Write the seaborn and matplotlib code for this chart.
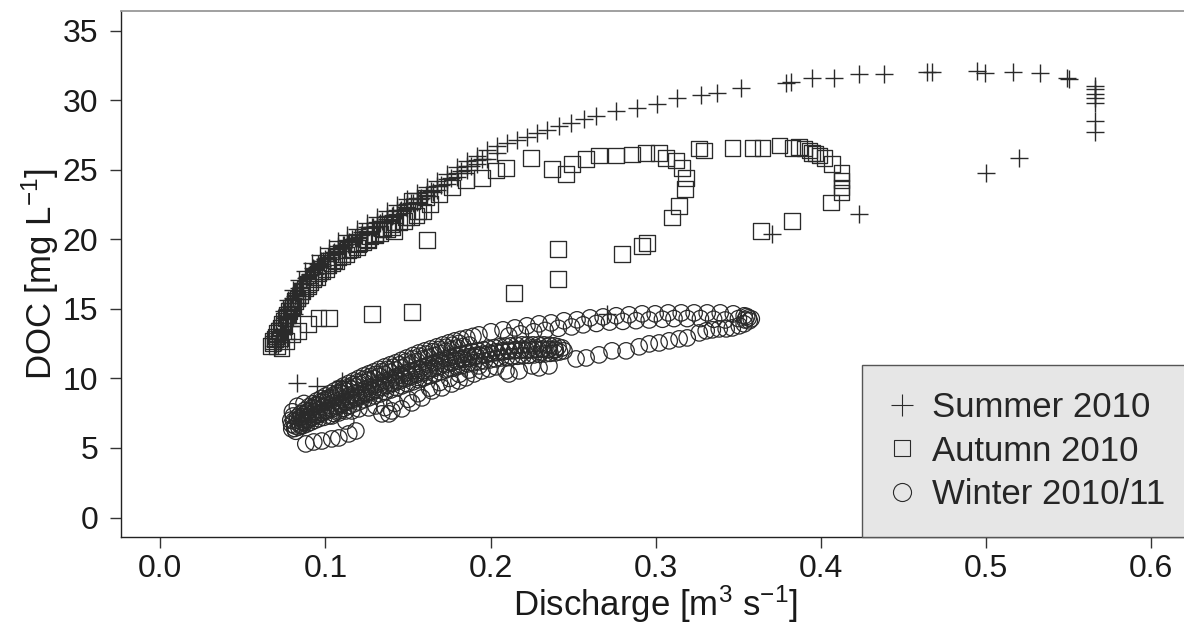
import matplotlib
matplotlib.use("Agg")
import matplotlib.pyplot as plt
from matplotlib.lines import Line2D
import pandas as pd
import seaborn as sns

# discharge (m3/s) and DOC (mg/L), one pair of lists per season
summer_q = [0.0693, 0.0705, 0.0723, 0.0747, 0.0771, 0.0801, 0.0838, 0.0875, 0.0917, 0.0965,
            0.1020, 0.1075, 0.1129, 0.1190, 0.1250, 0.1311, 0.1372, 0.1432, 0.1493, 0.1553,
            0.1614, 0.1675, 0.1735, 0.1796, 0.1856, 0.1917, 0.1978, 0.2038, 0.2099, 0.2160,
            0.2220, 0.2281, 0.2341, 0.2414, 0.2487, 0.2566, 0.2638, 0.2760, 0.2887, 0.3008,
            0.3129, 0.3275, 0.3372, 0.3517, 0.3790, 0.3820, 0.3947, 0.4080, 0.4232, 0.4384,
            0.4644, 0.4674, 0.4947, 0.4990, 0.5160, 0.5323, 0.5487, 0.5499, 0.5656, 0.5656,
            0.5656, 0.5656, 0.5656, 0.5656, 0.5656, 0.5196, 0.4996, 0.4232, 0.3705, 0.2705,
            0.1099, 0.0947, 0.0826,
            0.0715, 0.0735, 0.0760, 0.0790, 0.0825, 0.0865, 0.0905, 0.0950, 0.1000, 0.1050,
            0.1105, 0.1160, 0.1220, 0.1280, 0.1340, 0.1400, 0.1460, 0.1520, 0.1580, 0.1640,
            0.1700, 0.1760, 0.1820, 0.1880, 0.1950,
            0.0765, 0.0783, 0.0807, 0.0831, 0.0861, 0.0898, 0.0935, 0.0977, 0.1025, 0.1080,
            0.1135, 0.1189, 0.1250, 0.1310, 0.1371, 0.1432, 0.1492, 0.1553, 0.1613, 0.1674,
            0.1735, 0.1795, 0.1856, 0.1916, 0.1977, 0.2038,
            0.0729, 0.0744, 0.0765, 0.0789, 0.0816, 0.0850, 0.0887, 0.0926, 0.0971, 0.1023,
            0.1078, 0.1132, 0.1190, 0.1250, 0.1311, 0.1372, 0.1432, 0.1493, 0.1553, 0.1614,
            0.1675, 0.1735, 0.1796, 0.1856, 0.1917,
            0.0700, 0.0712, 0.0728, 0.0740, 0.0755, 0.0770, 0.0786, 0.0803, 0.0820, 0.0840,
            0.0860, 0.0882, 0.0905, 0.0930, 0.0957, 0.0985, 0.1015, 0.1045, 0.1078, 0.1110,
            0.1145, 0.1180, 0.1215, 0.1252, 0.1290, 0.1330, 0.1370, 0.1410, 0.1450, 0.1490,
            0.1530, 0.1570, 0.1610, 0.1650]
summer_doc = [12.34, 13.06, 14.00, 14.86, 15.65, 16.37, 17.09, 17.73, 18.31, 18.88,
              19.39, 19.89, 20.32, 20.76, 21.19, 21.62, 22.05, 22.48, 22.91, 23.35,
              23.78, 24.21, 24.71, 25.22, 25.65, 26.01, 26.44, 26.73, 26.94, 27.16,
              27.37, 27.66, 27.88, 28.17, 28.38, 28.67, 28.88, 29.24, 29.46, 29.75,
              30.18, 30.40, 30.54, 30.90, 31.26, 31.33, 31.62, 31.62, 31.91, 31.91,
              32.05, 32.05, 32.12, 31.98, 32.05, 31.98, 31.62, 31.55, 31.04, 30.83,
              30.47, 30.18, 29.82, 28.53, 27.73, 25.86, 24.78, 21.83, 20.40, 14.64,
              9.82, 9.46, 9.68,
              12.6, 13.5, 14.4, 15.2, 16.0, 16.8, 17.4, 18.0, 18.6, 19.1,
              19.6, 20.0, 20.5, 20.9, 21.3, 21.7, 22.1, 22.6, 23.0, 23.5,
              23.9, 24.4, 24.9, 25.3, 25.8,
              12.80, 13.75, 14.60, 15.40, 16.10, 16.85, 17.50, 18.05, 18.60, 19.15,
              19.65, 20.10, 20.50, 20.95, 21.35, 21.80, 22.25, 22.65, 23.10, 23.55,
              24.00, 24.45, 24.95, 25.40, 25.75, 26.20,
              12.60, 13.40, 14.30, 15.10, 15.90, 16.60, 17.30, 17.90, 18.45, 19.00,
              19.50, 19.95, 20.40, 20.85, 21.25, 21.70, 22.10, 22.55, 23.00, 23.40,
              23.85, 24.30, 24.80, 25.30, 25.70,
              12.50, 12.85, 13.58, 14.00, 14.52, 15.02, 15.40, 15.81, 16.14, 16.52,
              16.87, 17.23, 17.54, 17.86, 18.19, 18.47, 18.75, 19.01, 19.31, 19.57,
              19.84, 20.09, 20.34, 20.60, 20.87, 21.15, 21.44, 21.72, 22.01, 22.29,
              22.58, 22.86, 23.15, 23.43]

autumn_q = [0.0668, 0.0693, 0.0717, 0.0747, 0.0778, 0.0814, 0.0856, 0.0905, 0.0959, 0.1014,
            0.1075, 0.1135, 0.1202, 0.1269, 0.1341, 0.1414, 0.1487, 0.1560, 0.1632, 0.1525,
            0.1608, 0.1687, 0.1765, 0.1850, 0.1947, 0.2032, 0.2093, 0.2245, 0.2372, 0.2457,
            0.2493, 0.2578, 0.2656, 0.2759, 0.2856, 0.2941, 0.3020, 0.3063, 0.3123, 0.3160,
            0.3184, 0.3178, 0.3141, 0.3099, 0.2948, 0.2917, 0.2796, 0.2408, 0.2408, 0.2141,
            0.1614, 0.1414, 0.1523, 0.1281, 0.1020, 0.0959, 0.0893, 0.0838, 0.0796, 0.0760,
            0.0735,
            0.3263, 0.3293, 0.3463, 0.3584, 0.3645, 0.3748, 0.3827, 0.3868, 0.3899, 0.3929,
            0.3947, 0.3966, 0.3990, 0.4020, 0.4068, 0.4123, 0.4123, 0.4123, 0.4123, 0.4062,
            0.3826, 0.3638,
            0.0683, 0.0707, 0.0737, 0.0768, 0.0804, 0.0846, 0.0895, 0.0949, 0.1004, 0.1065,
            0.1125, 0.1192, 0.1259, 0.1331, 0.1404, 0.1477, 0.1550,
            0.0680, 0.0700, 0.0727, 0.0757, 0.0791, 0.0830, 0.0875, 0.0927, 0.0981, 0.1040,
            0.1100, 0.1163, 0.1230, 0.1300, 0.1372, 0.1445, 0.1518, 0.1590,
            0.0705, 0.0725, 0.0750, 0.0775, 0.0800, 0.0830, 0.0860, 0.0895, 0.0930, 0.0970,
            0.1010, 0.1055, 0.1100, 0.1150, 0.1200, 0.1250, 0.1300, 0.1350, 0.1400]
autumn_doc = [12.34, 12.84, 13.42, 14.14, 14.86, 15.58, 16.29, 16.94, 17.59, 18.17,
              18.74, 19.24, 19.75, 20.25, 20.76, 21.19, 21.62, 22.05, 22.55, 22.77,
              22.99, 23.27, 23.71, 24.21, 24.42, 24.93, 25.14, 25.86, 25.07, 24.71,
              25.43, 25.79, 26.01, 26.01, 26.08, 26.22, 26.22, 25.86, 25.65, 25.14,
              24.42, 23.63, 22.41, 21.55, 19.75, 19.53, 18.96, 19.32, 17.16, 16.15,
              19.96, 20.61, 14.78, 14.64, 14.35, 14.35, 13.92, 13.42, 13.20, 12.70,
              12.19,
              26.51, 26.37, 26.58, 26.58, 26.58, 26.73, 26.58, 26.65, 26.51, 26.37,
              26.22, 26.15, 26.01, 25.86, 25.43, 24.78, 24.21, 23.71, 23.35, 22.63,
              21.33, 20.61,
              12.70, 13.25, 13.90, 14.55, 15.25, 15.95, 16.60, 17.25, 17.85, 18.40,
              18.90, 19.40, 19.90, 20.40, 20.85, 21.30, 21.70,
              12.50, 13.00, 13.65, 14.35, 15.05, 15.75, 16.45, 17.10, 17.70, 18.30,
              18.80, 19.30, 19.80, 20.30, 20.75, 21.20, 21.60, 22.00,
              12.30, 12.88, 13.76, 14.57, 15.15, 15.74, 16.27, 16.80, 17.26, 17.73,
              18.10, 18.51, 18.89, 19.26, 19.63, 19.99, 20.34, 20.70, 21.05]

winter_q = [
    # outer rising limb
    0.0808, 0.0850, 0.0899, 0.0947, 0.1002, 0.1056, 0.1111, 0.1172, 0.1232, 0.1293,
    0.1359, 0.1426, 0.1493, 0.1566, 0.1638, 0.1711, 0.1784, 0.1856, 0.1929, 0.2002,
    0.2075, 0.2147, 0.2220, 0.2293, 0.2366, 0.2444, 0.2523, 0.2602, 0.2681, 0.2760,
    0.2838, 0.2917, 0.2996, 0.3075, 0.3154, 0.3232, 0.3311, 0.3390, 0.3469, 0.3535,
    0.3578,
    0.0829, 0.0875, 0.0923, 0.0975, 0.1029, 0.1084, 0.1142, 0.1202, 0.1263, 0.1326,
    0.1393, 0.1460, 0.1530, 0.1602, 0.1675, 0.1748, 0.1820, 0.1893,
    0.2110, 0.2180, 0.2260, 0.2330, 0.2410, 0.2490, 0.2560, 0.2640, 0.2720, 0.2800,
    0.2880, 0.2960, 0.3040, 0.3110, 0.3190, 0.3270, 0.3350, 0.3420, 0.3500, 0.3550,
    0.3560, 0.3540,
    0.0845, 0.0870, 0.0895, 0.0920, 0.0945, 0.0970, 0.0995, 0.1020, 0.1050, 0.1080,
    0.1110, 0.1140, 0.1170, 0.1200, 0.1235, 0.1270, 0.1305, 0.1340, 0.1375, 0.1410,
    0.1450, 0.1490, 0.1530, 0.1570, 0.1610, 0.1650, 0.1690, 0.1730, 0.1770, 0.1810,
    0.0830, 0.0880, 0.0930, 0.0985, 0.1040, 0.1095, 0.1150, 0.1205, 0.1265, 0.1325,
    0.1390, 0.1455, 0.1520, 0.1590, 0.1660, 0.1730, 0.1800, 0.1870,
    0.0855, 0.0905, 0.0958, 0.1013, 0.1068, 0.1123, 0.1178, 0.1235, 0.1295, 0.1358,
    0.1423, 0.1488, 0.1555, 0.1625, 0.1695, 0.1765, 0.1835,
    # inner loop
    0.0796, 0.0838, 0.0887, 0.0935, 0.0990, 0.1044, 0.1099, 0.1153, 0.1214, 0.1275,
    0.1335, 0.1396, 0.1456, 0.1523, 0.1590, 0.1656, 0.1723, 0.1790, 0.1856, 0.1923,
    0.1990, 0.2056, 0.2123, 0.2190, 0.2256, 0.2323, 0.2384, 0.2432,
    0.0817, 0.0863, 0.0911, 0.0963, 0.1017, 0.1071, 0.1126, 0.1184, 0.1245, 0.1305,
    0.1366, 0.1426, 0.1490, 0.1557, 0.1623, 0.1690, 0.1757, 0.1823, 0.1890, 0.1957,
    0.2023, 0.2090, 0.2157, 0.2223, 0.2290, 0.2354, 0.2408,
    0.0850, 0.0875, 0.0900, 0.0925, 0.0950, 0.0975, 0.1000, 0.1030, 0.1060, 0.1090,
    0.1120, 0.1150, 0.1185, 0.1220, 0.1255, 0.1290, 0.1325, 0.1360, 0.1395, 0.1430,
    0.1470, 0.1510, 0.1550, 0.1590, 0.1630, 0.1670, 0.1710, 0.1750, 0.1790, 0.1830,
    0.1870, 0.1910, 0.1950, 0.1990, 0.2030, 0.2070, 0.2110, 0.2150, 0.2190, 0.2230,
    0.2270, 0.2310, 0.2350, 0.2390,
    0.0860, 0.0920, 0.0980, 0.1040, 0.1100, 0.1160, 0.1220, 0.1285, 0.1350, 0.1415,
    0.1480, 0.1550, 0.1620, 0.1690, 0.1760, 0.1830, 0.1900, 0.1970, 0.2040, 0.2110,
    0.2180, 0.2250, 0.2320, 0.2390,
    0.0890, 0.0950, 0.1010, 0.1070, 0.1130, 0.1190, 0.1252, 0.1318, 0.1383, 0.1448,
    0.1515, 0.1585, 0.1655, 0.1725, 0.1795, 0.1865, 0.1935, 0.2005, 0.2075, 0.2145,
    0.2215, 0.2285, 0.2355,
    0.0814, 0.0862, 0.0911, 0.0959, 0.1020, 0.1081, 0.1141, 0.1202, 0.1262, 0.1329,
    0.1396, 0.1462, 0.1529, 0.1596, 0.1663, 0.1729, 0.1796, 0.1862, 0.1929, 0.1996,
    0.2062, 0.2129, 0.2196, 0.2262, 0.2329, 0.2390, 0.2444,
    0.0838, 0.0887, 0.0935, 0.0990, 0.1051, 0.1111, 0.1172, 0.1232, 0.1296, 0.1363,
    0.1429, 0.1496, 0.1563, 0.1630, 0.1696, 0.1763, 0.1829, 0.1896, 0.1963, 0.2029,
    0.2096, 0.2163, 0.2229, 0.2296, 0.2360, 0.2417,
    # falling limb
    0.3566, 0.3535, 0.3505, 0.3463, 0.3426, 0.3384, 0.3342, 0.3305, 0.3263, 0.3190,
    0.3141, 0.3081, 0.3020, 0.2960, 0.2899, 0.2820, 0.2735, 0.2656, 0.2578, 0.2517,
    0.2353, 0.2293, 0.2250, 0.2172, 0.2111, 0.2093, 0.2032, 0.1990, 0.1947, 0.1899,
    0.1850, 0.1808, 0.1765, 0.1705, 0.1644, 0.1584, 0.1523, 0.1462, 0.1402, 0.1384,
    0.1341, 0.1305, 0.1262, 0.1202, 0.1160, 0.1123, 0.1081, 0.1038, 0.1123, 0.1184,
    0.1141, 0.1081, 0.1038, 0.0978, 0.0929, 0.0881,
    0.1360, 0.1420, 0.1500, 0.1560, 0.1630, 0.1690, 0.1750, 0.1810, 0.1870, 0.1930,
    0.0790, 0.0800, 0.0830, 0.0870, 0.0795, 0.0805, 0.0820]
winter_doc = [
    6.94, 7.45, 7.95, 8.38, 8.74, 9.10, 9.46, 9.82, 10.18, 10.47,
    10.83, 11.12, 11.47, 11.83, 12.12, 12.41, 12.70, 12.91, 13.13, 13.35,
    13.49, 13.63, 13.78, 13.92, 13.99, 14.14, 14.21, 14.35, 14.42, 14.50,
    14.57, 14.64, 14.64, 14.71, 14.71, 14.71, 14.71, 14.71, 14.64, 14.50,
    14.28,
    7.20, 7.70, 8.17, 8.56, 8.92, 9.28, 9.64, 10.00, 10.33, 10.65,
    10.98, 11.30, 11.65, 11.98, 12.27, 12.56, 12.81, 13.02,
    13.05, 13.20, 13.35, 13.45, 13.60, 13.70, 13.85, 13.95, 14.05, 14.10,
    14.15, 14.20, 14.25, 14.30, 14.30, 14.30, 14.25, 14.20, 14.30, 14.45,
    14.35, 14.20,
    7.15, 7.40, 7.65, 7.90, 8.10, 8.30, 8.45, 8.60, 8.80, 9.00,
    9.20, 9.38, 9.56, 9.74, 9.95, 10.13, 10.29, 10.48, 10.65, 10.80,
    10.99, 11.20, 11.40, 11.60, 11.75, 11.92, 12.08, 12.24, 12.39, 12.52,
    7.00, 7.50, 7.90, 8.30, 8.60, 8.95, 9.25, 9.55, 9.85, 10.15,
    10.45, 10.75, 11.05, 11.40, 11.65, 11.95, 12.20, 12.40,
    7.25, 7.70, 8.10, 8.45, 8.78, 9.10, 9.40, 9.70, 10.00, 10.30,
    10.60, 10.90, 11.22, 11.52, 11.80, 12.08, 12.30,
    6.37, 6.80, 7.23, 7.59, 7.95, 8.24, 8.53, 8.81, 9.10, 9.39,
    9.68, 9.96, 10.25, 10.54, 10.83, 11.12, 11.40, 11.62, 11.83, 11.98,
    12.12, 12.27, 12.34, 12.41, 12.41, 12.41, 12.34, 12.19,
    6.58, 7.02, 7.41, 7.77, 8.10, 8.39, 8.67, 8.96, 9.25, 9.54,
    9.82, 10.11, 10.40, 10.69, 10.98, 11.26, 11.51, 11.73, 11.91, 12.05,
    12.20, 12.31, 12.38, 12.41, 12.41, 12.38, 12.27,
    6.60, 6.83, 7.03, 7.22, 7.39, 7.55, 7.70, 7.87, 8.03, 8.18,
    8.34, 8.49, 8.66, 8.83, 9.00, 9.16, 9.33, 9.50, 9.66, 9.83,
    10.01, 10.18, 10.36, 10.53, 10.70, 10.88, 11.05, 11.19, 11.32, 11.45,
    11.56, 11.65, 11.74, 11.82, 11.91, 11.98, 12.03, 12.07, 12.11, 12.11,
    12.11, 12.11, 12.08, 12.04,
    6.85, 7.20, 7.50, 7.80, 8.15, 8.45, 8.75, 9.05, 9.35, 9.65,
    9.95, 10.25, 10.55, 10.85, 11.10, 11.35, 11.55, 11.70, 11.85, 11.95,
    12.00, 12.05, 12.10, 12.10,
    7.03, 7.35, 7.65, 7.98, 8.30, 8.60, 8.90, 9.20, 9.50, 9.80,
    10.10, 10.40, 10.70, 10.98, 11.23, 11.45, 11.63, 11.78, 11.90, 11.98,
    12.03, 12.08, 12.10,
    6.40, 6.60, 6.85, 7.10, 7.30, 7.66, 8.02, 8.31, 8.60, 8.88,
    9.17, 9.46, 9.75, 10.04, 10.32, 10.61, 10.83, 11.04, 11.19, 11.33,
    11.47, 11.55, 11.62, 11.69, 11.76, 11.83, 11.98,
    6.50, 6.72, 6.98, 7.20, 7.48, 7.84, 8.17, 8.46, 8.74, 9.03,
    9.32, 9.61, 9.90, 10.18, 10.47, 10.72, 10.94, 11.12, 11.26, 11.40,
    11.51, 11.59, 11.66, 11.73, 11.80, 11.90,
    14.14, 13.92, 13.78, 13.63, 13.56, 13.56, 13.49, 13.42, 13.27, 12.91,
    12.84, 12.70, 12.55, 12.48, 12.27, 11.98, 11.98, 11.69, 11.47, 11.40,
    10.90, 10.76, 10.90, 10.54, 10.32, 10.54, 10.83, 10.68, 10.54, 10.32,
    10.04, 9.82, 9.60, 9.32, 9.10, 8.60, 8.24, 7.81, 7.66, 7.45,
    7.45, 8.02, 7.88, 7.81, 7.66, 7.66, 7.52, 7.30, 6.94, 6.22,
    6.01, 5.72, 5.65, 5.50, 5.43, 5.29,
    7.90, 8.20, 8.50, 8.90, 9.30, 9.70, 10.00, 10.30, 10.60, 10.90,
    7.00, 7.60, 8.00, 8.20, 6.70, 7.30, 6.20]

season_names = ["Summer 2010", "Autumn 2010", "Winter 2010/11"]
x_ticks = [0.0, 0.1, 0.2, 0.3, 0.4, 0.5, 0.6]
y_ticks = [0, 5, 10, 15, 20, 25, 30, 35]

sns.set_theme(style="ticks")
plt.rcParams["font.family"] = ["Liberation Sans", "DejaVu Sans"]
plt.rcParams["mathtext.fontset"] = "custom"
plt.rcParams["mathtext.rm"] = "Liberation Sans"
plt.rcParams["mathtext.default"] = "regular"

summer = pd.DataFrame({"q": summer_q, "doc": summer_doc})
autumn = pd.DataFrame({"q": autumn_q, "doc": autumn_doc})
winter = pd.DataFrame({"q": winter_q, "doc": winter_doc})

fig = plt.figure(figsize=(11.84, 6.26), dpi=100)
ax = fig.add_axes([0.1019, 0.1422, 0.904, 0.840])

ink = "#2a2a2a"
sns.scatterplot(data=summer, x="q", y="doc", marker="+", s=170, color=ink,
                linewidth=1.0, ax=ax)
sns.scatterplot(data=autumn, x="q", y="doc", marker="s", s=125, facecolors="none",
                edgecolor=ink, linewidth=0.95, ax=ax)
sns.scatterplot(data=winter, x="q", y="doc", marker="o", s=140, facecolors="none",
                edgecolor=ink, linewidth=0.9, ax=ax)

ax.set_xlim(-0.024, 0.624)
ax.set_ylim(-1.4, 36.4)
ax.set_xticks(x_ticks)
ax.set_xticklabels([f"{v:.1f}" for v in x_ticks])
ax.set_yticks(y_ticks)
ax.tick_params(axis="both", labelsize=23, length=8, width=1, color="#333333",
               labelcolor="#1a1a1a", direction="out")
ax.tick_params(axis="x", pad=4)
ax.tick_params(axis="y", pad=8)

ax.set_xlabel(r"Discharge [m$^{3}$ s$^{-1}$]", fontsize=25, color="#1a1a1a", labelpad=0)
ax.set_ylabel(r"DOC [mg L$^{-1}$]", fontsize=25, color="#1a1a1a", labelpad=1)

for side in ["left", "bottom"]:
    ax.spines[side].set_color("#222222")
    ax.spines[side].set_linewidth(1.0)
ax.spines["top"].set_color("#999999")
ax.spines["top"].set_linewidth(1.3)
ax.spines["right"].set_color("#999999")

handles = [
    Line2D([], [], ls="none", marker="+", ms=16.5, mew=0.8, color=ink),
    Line2D([], [], ls="none", marker="s", ms=11, mew=0.8, mfc="none", mec=ink),
    Line2D([], [], ls="none", marker="o", ms=13, mew=0.8, mfc="none", mec=ink),
]
leg = ax.legend(handles, season_names, loc="lower right", bbox_to_anchor=(1, 0),
                borderaxespad=0, fontsize=25, frameon=True, fancybox=False,
                facecolor="#e6e6e6", edgecolor="#555555", framealpha=1,
                borderpad=0.75, handlelength=0.8, handletextpad=0.45, labelspacing=0.3)
leg.get_frame().set_linewidth(1.0)

fig.savefig("out.png", dpi=100)
